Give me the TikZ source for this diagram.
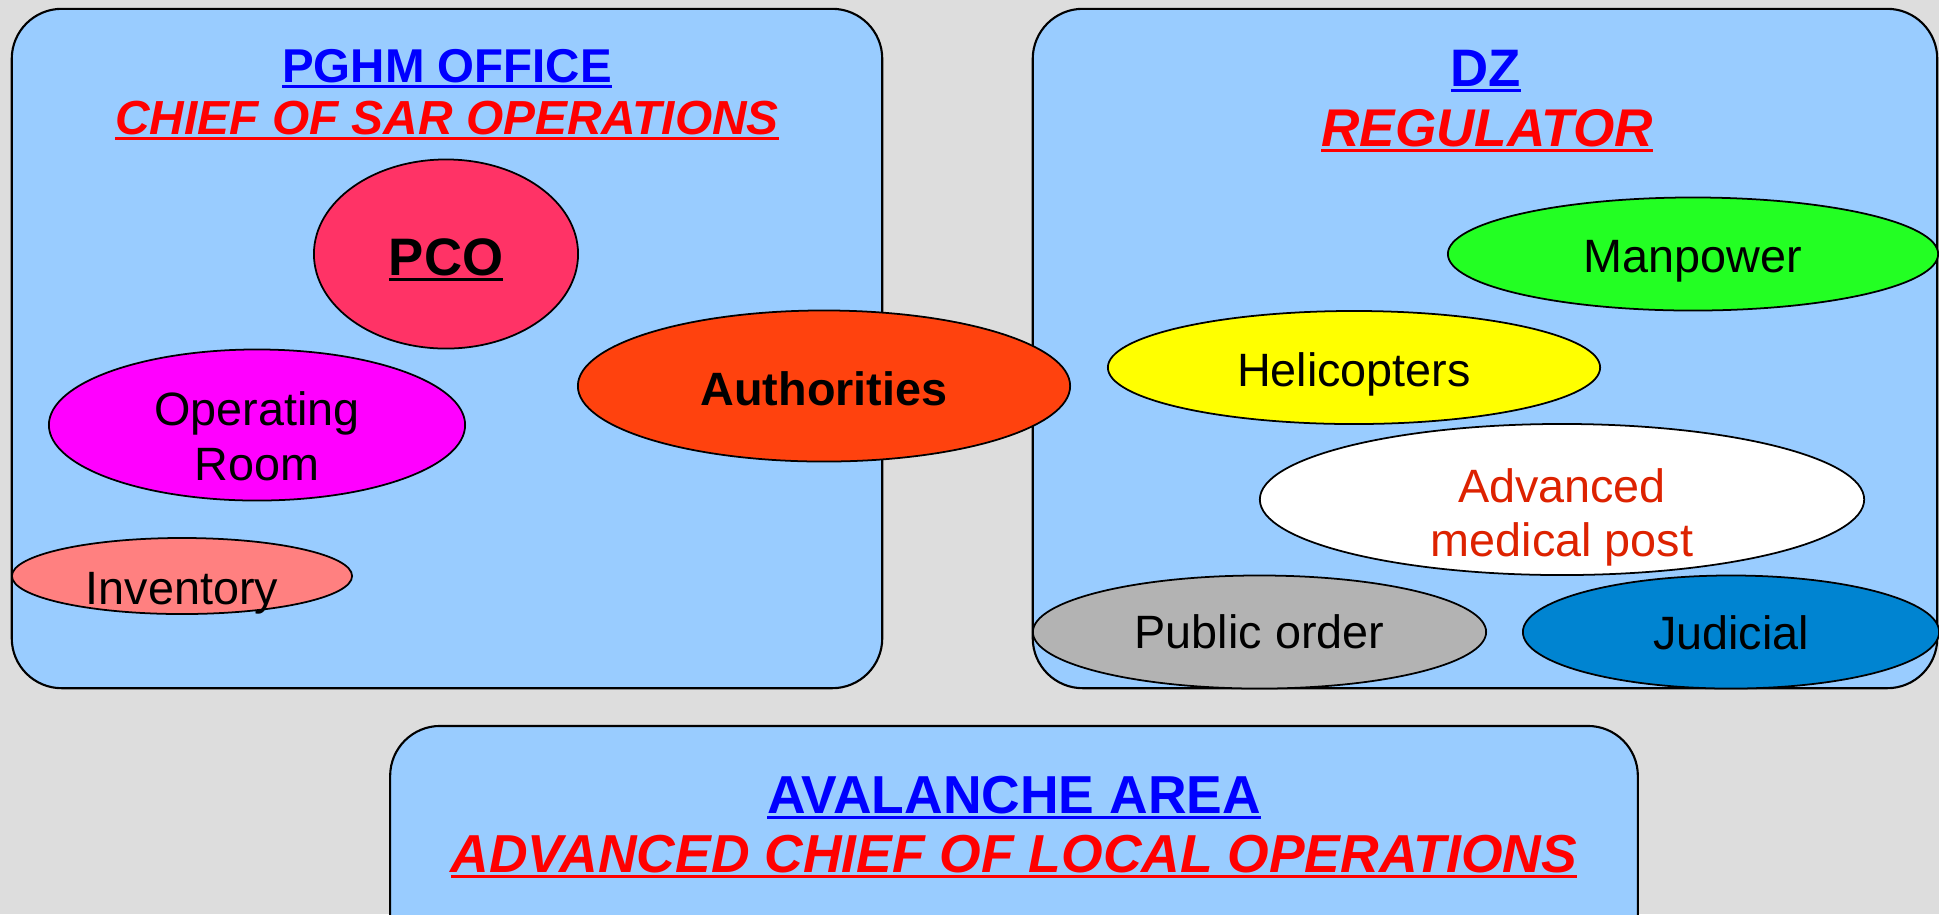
\documentclass[tikz,border=0pt]{standalone}
\usepackage{fontspec}
\setmainfont{Liberation Sans}
\usetikzlibrary{shapes.geometric}
\definecolor{bggray}{HTML}{DDDDDD}
\definecolor{areablue}{HTML}{99CCFF}
\definecolor{titleblue}{HTML}{0000FF}
\definecolor{titlered}{HTML}{FF0000}
\definecolor{pcopink}{HTML}{FF3366}
\definecolor{roommagenta}{HTML}{FF00FF}
\definecolor{invsalmon}{HTML}{FF8080}
\definecolor{authorange}{HTML}{FF420E}
\definecolor{mangreen}{HTML}{23FF23}
\definecolor{heliyellow}{HTML}{FFFF00}
\definecolor{pubgray}{HTML}{B3B3B3}
\definecolor{judblue}{HTML}{0084D1}
\definecolor{ampred}{HTML}{DD2200}
% underline a bit heavier than \underline
\newcommand{\thickul}[1]{\leavevmode\setbox0\hbox{#1}\rlap{\rule[-1.6pt]{\wd0}{0.75pt}}\box0}

\begin{document}
\begin{tikzpicture}[x=0.01cm,y=-0.01cm]
\tikzstyle{area}=[draw=black,line width=0.6pt,fill=areablue,rounded corners=0.5cm,inner sep=0pt]
\tikzstyle{blob}=[ellipse,draw=black,line width=0.5pt,inner sep=0pt]
\tikzstyle{blobtext}=[align=center,inner sep=0pt,text depth=0pt,font=\fontsize{13.3}{15.4}\selectfont]
\tikzstyle{head}=[anchor=base,inner sep=0pt,text=titleblue,font=\bfseries\fontsize{13.5}{15}\selectfont]
\tikzstyle{role}=[anchor=base,inner sep=0pt,text=titlered,font=\bfseries\itshape\fontsize{13.6}{15}\selectfont]
\fill[bggray] (0,0) rectangle (1939,914);
\useasboundingbox (0,0) rectangle (1939,914);
\clip (0,0) rectangle (1939,914);
% the three areas
\node[area,minimum width=8.70cm,minimum height=6.79cm] (pghm) at (447,348.5) {};
\node[area,minimum width=9.04cm,minimum height=6.79cm] (dz) at (1485,348.5) {};
\node[area,minimum width=12.47cm,minimum height=2.40cm] (avalanche) at (1014,846) {};
\node[head] (pghm-head) at (447,82) {\thickul{PGHM OFFICE}};
\node[role] (pghm-role) at (447,134) {\thickul{CHIEF OF SAR OPERATIONS}};
\node[head,font=\bfseries\fontsize{15}{17}\selectfont] (dz-head) at (1486,86) {\thickul{DZ}};
\node[role,font=\bfseries\itshape\fontsize{15.1}{17}\selectfont] (dz-role) at (1487,146) {\thickul{REGULATOR}};
\node[head,font=\bfseries\fontsize{15.2}{17}\selectfont] (avalanche-head) at (1014,813) {\thickul{AVALANCHE AREA}};
\node[role,font=\bfseries\itshape\fontsize{15.2}{17}\selectfont] (avalanche-role) at (1014,872) {\thickul{ADVANCED CHIEF OF LOCAL OPERATIONS}};
% the services
\foreach \name/\point/\w/\h/\col/\dy/\txt in {
	pco/{446,254}/2.64/1.89/pcopink/-0.03/{\bfseries\fontsize{15}{17}\selectfont\thickul{PCO}},
	oproom/{257,425}/4.16/1.51/roommagenta/-0.11/{Operating\\Room},
	inventory/{182,576}/3.40/0.76/invsalmon/-0.12/{Inventory},
	authorities/{824,386}/4.92/1.51/authorange/-0.03/{\bfseries Authorities},
	manpower/{1693,254}/4.90/1.13/mangreen/-0.02/{Manpower},
	helicopters/{1354,367.5}/4.92/1.13/heliyellow/-0.02/{Helicopters},
	amp/{1562,499.5}/6.04/1.51/white/-0.13/{\textcolor{ampred}{Advanced}\\\textcolor{ampred}{medical post}},
	publicorder/{1259.5,632}/4.53/1.13/pubgray/0/{Public order},
	judicial/{1731,632}/4.16/1.13/judblue/-0.01/{Judicial}}
{
	\node[blob,fill=\col,minimum width=\w cm,minimum height=\h cm] (\name) at (\point) {};
	\node[blobtext] (\name-txt) at ([yshift=\dy cm]\name.center) {\txt};
}
\end{tikzpicture}
\end{document}
